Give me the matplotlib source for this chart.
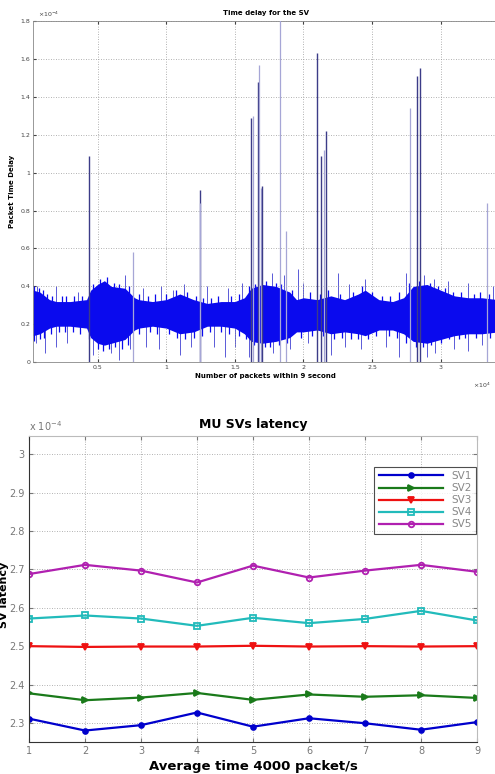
import matplotlib
matplotlib.use("Agg")
import matplotlib.pyplot as plt

plt.rcParams['font.family'] = ['DejaVu Sans']

# ---- top chart: packet time delay (x in 1e4 packets, y in 1e-4 s) ----
# dense noise band, envelope
env_x = [0.03, 0.08, 0.15, 0.2, 0.3, 0.42, 0.45, 0.5, 0.55, 0.6,
         0.7, 0.77, 0.8, 0.9, 1.0, 1.1, 1.2, 1.3, 1.4, 1.5,
         1.57, 1.62, 1.7, 1.8, 1.9, 1.95, 2.0, 2.1, 2.2, 2.3,
         2.4, 2.45, 2.55, 2.65, 2.73, 2.8, 2.9, 3.0, 3.1, 3.2,
         3.3, 3.42]
env_hi = [0.38, 0.37, 0.33, 0.32, 0.32, 0.33, 0.38, 0.41, 0.43, 0.40,
          0.39, 0.34, 0.33, 0.32, 0.33, 0.36, 0.33, 0.31, 0.32, 0.32,
          0.34, 0.39, 0.41, 0.40, 0.37, 0.33, 0.34, 0.33, 0.35, 0.33,
          0.36, 0.38, 0.33, 0.32, 0.34, 0.40, 0.41, 0.38, 0.35, 0.34,
          0.34, 0.33]
env_lo = [0.14, 0.15, 0.18, 0.19, 0.19, 0.18, 0.13, 0.10, 0.09, 0.10,
          0.12, 0.17, 0.18, 0.19, 0.18, 0.15, 0.16, 0.19, 0.19, 0.18,
          0.15, 0.11, 0.10, 0.11, 0.13, 0.16, 0.16, 0.17, 0.15, 0.16,
          0.15, 0.14, 0.17, 0.17, 0.15, 0.11, 0.10, 0.12, 0.14, 0.15,
          0.15, 0.16]

# short ragged tips along the band edges (same blue as the band)
rag_up_x = [0.04, 0.07, 0.1, 0.13, 0.17, 0.24, 0.27, 0.33, 0.39, 0.47, 0.52,
            0.57, 0.62, 0.66, 0.73, 0.8, 0.87, 0.92, 1.0, 1.07, 1.15, 1.22,
            1.27, 1.33, 1.38, 1.47, 1.53, 1.6, 1.65, 1.73, 1.8, 1.84, 1.92,
            2.05, 2.12, 2.18, 2.27, 2.36, 2.43, 2.5, 2.57, 2.63, 2.7, 2.77,
            2.84, 2.92, 2.98, 3.03, 3.09, 3.15, 3.24, 3.29, 3.35, 3.4]
rag_up_y = [0.40, 0.39, 0.38, 0.36, 0.35, 0.35, 0.35, 0.35, 0.35, 0.41, 0.44,
            0.45, 0.42, 0.41, 0.40, 0.36, 0.35, 0.36, 0.36, 0.38, 0.37, 0.35,
            0.34, 0.34, 0.35, 0.35, 0.36, 0.40, 0.41, 0.43, 0.42, 0.41, 0.38,
            0.37, 0.36, 0.38, 0.36, 0.37, 0.40, 0.37, 0.35, 0.35, 0.37, 0.42,
            0.43, 0.42, 0.40, 0.39, 0.37, 0.37, 0.36, 0.37, 0.36, 0.35]
rag_dn_x = [0.04, 0.08, 0.11, 0.16, 0.22, 0.26, 0.32, 0.37, 0.44, 0.5, 0.54,
            0.58, 0.63, 0.68, 0.72, 0.8, 0.88, 0.93, 1.02, 1.08, 1.14, 1.2,
            1.26, 1.32, 1.4, 1.46, 1.53, 1.58, 1.64, 1.72, 1.76, 1.82, 1.88,
            1.98, 2.06, 2.14, 2.22, 2.28, 2.35, 2.4, 2.47, 2.53, 2.62, 2.68,
            2.75, 2.82, 2.87, 2.93, 3.0, 3.06, 3.13, 3.18, 3.26, 3.36]
rag_dn_y = [0.11, 0.12, 0.13, 0.15, 0.16, 0.16, 0.16, 0.15, 0.12, 0.07, 0.06,
            0.07, 0.08, 0.07, 0.09, 0.15, 0.16, 0.15, 0.15, 0.13, 0.12, 0.13,
            0.14, 0.16, 0.16, 0.15, 0.14, 0.12, 0.09, 0.08, 0.08, 0.09, 0.10,
            0.13, 0.14, 0.14, 0.12, 0.13, 0.12, 0.12, 0.12, 0.14, 0.14, 0.13,
            0.10, 0.08, 0.08, 0.09, 0.10, 0.12, 0.12, 0.13, 0.13, 0.13]

# single outliers poking out of the band
whisk_up_x = [0.06, 0.2, 0.36, 0.7, 0.83, 0.96, 1.05, 1.13, 1.3, 1.45, 1.55,
              1.77, 1.86, 1.96, 2.0, 2.25, 2.33, 2.45, 2.75, 2.88, 2.95,
              3.05, 3.2, 3.38]
whisk_up_y = [0.40, 0.40, 0.37, 0.46, 0.39, 0.40, 0.38, 0.41, 0.40, 0.39, 0.42,
              0.47, 0.46, 0.49, 0.42, 0.47, 0.41, 0.44, 0.47, 0.46, 0.44,
              0.43, 0.42, 0.40]
whisk_dn_x = [0.05, 0.12, 0.2, 0.28, 0.47, 0.6, 0.66, 0.74, 0.85, 0.95, 1.1,
              1.18, 1.35, 1.43, 1.5, 1.6, 1.78, 1.9, 2.03, 2.2, 2.3, 2.42,
              2.6, 2.7, 2.9, 2.96, 3.1, 3.2, 3.3]
whisk_dn_y = [0.10, 0.05, 0.08, 0.10, 0.04, 0.05, 0.01, 0.07, 0.08, 0.07, 0.04,
              0.08, 0.08, 0.03, 0.08, 0.03, 0.05, 0.07, 0.10, 0.04, 0.08, 0.07,
              0.08, 0.03, 0.03, 0.05, 0.07, 0.06, 0.09]

# large delay spikes
spike_x = [0.436, 0.76, 1.25, 1.25, 1.62, 1.63, 1.67, 1.68, 1.69, 1.70,
           1.83, 1.87, 2.10, 2.13, 2.15, 2.165, 2.78, 2.83, 2.85, 3.34]
spike_y = [1.09, 0.58, 0.91, 0.84, 1.29, 1.30, 1.48, 1.57, 0.92, 0.93,
           1.85, 0.69, 1.63, 1.09, 1.12, 1.22, 1.34, 1.51, 1.55, 0.84]
spike_dark = [1, 0, 1, 0, 1, 0, 1, 0, 0, 1,
              0, 0, 1, 1, 0, 1, 0, 1, 1, 0]

# ---- bottom chart: MU SVs latency (1e-4 s) ----
runs = [1, 2, 3, 4, 5, 6, 7, 8, 9]
sv1 = [2.311, 2.280, 2.294, 2.327, 2.290, 2.312, 2.299, 2.282, 2.302]
sv2 = [2.377, 2.359, 2.366, 2.378, 2.360, 2.374, 2.368, 2.372, 2.365]
sv3 = [2.500, 2.498, 2.499, 2.499, 2.501, 2.499, 2.500, 2.499, 2.500]
sv4 = [2.572, 2.580, 2.572, 2.553, 2.574, 2.560, 2.571, 2.592, 2.567]
sv5 = [2.688, 2.712, 2.697, 2.666, 2.710, 2.679, 2.697, 2.712, 2.694]
sv_names = ['SV1', 'SV2', 'SV3', 'SV4', 'SV5']

fig = plt.figure(figsize=(4.95, 7.74), dpi=100)
grid_kw = dict(color='#999999', linestyle=(0, (1, 2)), linewidth=0.6)

# top axes
ax1 = fig.add_axes([0.0667, 0.532, 0.94, 0.441])
band = '#0a0aee'
ax1.fill_between(env_x, env_lo, env_hi, color=band, linewidth=0, zorder=2)
ax1.vlines(rag_up_x, 0.25, rag_up_y, color=band, linewidth=0.9, zorder=2)
ax1.vlines(rag_dn_x, rag_dn_y, 0.25, color=band, linewidth=0.9, zorder=2)
ax1.vlines(whisk_up_x, 0.25, whisk_up_y, color='#5a5ad8', linewidth=0.7, zorder=1)
ax1.vlines(whisk_dn_x, whisk_dn_y, 0.25, color='#5a5ad8', linewidth=0.7, zorder=1)
for x, y, d in zip(spike_x, spike_y, spike_dark):
    ax1.vlines(x, 0, y, color='#3c3c88' if d else '#a6a6d6',
               linewidth=1.0 if d else 0.9, zorder=3)
ax1.set_xlim(0.03, 3.42)
ax1.set_ylim(0, 1.8)
ax1.set_xticks([0.5, 1, 1.5, 2, 2.5, 3])
ax1.set_xticklabels(['0.5', '1', '1.5', '2', '2.5', '3'])
ax1.set_yticks([0, 0.2, 0.4, 0.6, 0.8, 1, 1.2, 1.4, 1.6, 1.8])
ax1.set_yticklabels(['0', '0.2', '0.4', '0.6', '0.8', '1', '1.2', '1.4', '1.6', '1.8'])
ax1.tick_params(direction='in', labelsize=4.5, colors='#444444', length=2,
                top=True, right=True, pad=2)
ax1.grid(True, **grid_kw)
for s in ax1.spines.values():
    s.set_color('#888888')
    s.set_linewidth(0.6)
ax1.set_title('Time delay for the SV', fontsize=5, fontweight='bold', pad=4)
ax1.set_xlabel('Number of packets within 9 second', fontsize=5, fontweight='bold', labelpad=2)
ax1.set_ylabel('Packet Time Delay', fontsize=5, fontweight='bold', labelpad=4)
ax1.text(0.01, 1.005, r'$\times10^{-4}$', transform=ax1.transAxes, fontsize=4.5,
         color='#444444', va='bottom')
ax1.text(0.945, -0.055, r'$\times10^{4}$', transform=ax1.transAxes, fontsize=4.5,
         color='#444444', va='top')

# bottom axes
ax2 = fig.add_axes([0.0586, 0.0413, 0.905, 0.3954])
styles = [('#0000cc', 'o', 'full', 3.5),
          ('#1a7a1a', '>', 'full', 4),
          ('#ee1111', 'v', 'full', 4),
          ('#22bbbb', 's', 'none', 4),
          ('#b020b0', 'o', 'none', 4)]
for vals, name, (c, m, fill, ms) in zip([sv1, sv2, sv3, sv4, sv5], sv_names, styles):
    ax2.plot(runs, vals, color=c, marker=m, markersize=ms, linewidth=1.6,
             fillstyle=fill, markeredgewidth=1.3, label=name)
ax2.set_xlim(1, 9)
ax2.set_ylim(2.25, 3.048)
ax2.set_xticks(runs)
ax2.set_yticks([2.3, 2.4, 2.5, 2.6, 2.7, 2.8, 2.9, 3.0])
ax2.set_yticklabels(['2.3', '2.4', '2.5', '2.6', '2.7', '2.8', '2.9', '3'])
ax2.tick_params(direction='in', labelsize=7, colors='#777777', length=3,
                top=True, right=True, pad=3)
ax2.grid(True, **grid_kw)
ax2.spines['left'].set_color('#333333')
ax2.spines['bottom'].set_color('#333333')
ax2.spines['top'].set_color('#bbbbbb')
ax2.spines['right'].set_color('#bbbbbb')
ax2.set_title('MU SVs latency', fontsize=9, fontweight='bold', pad=6)
ax2.set_xlabel('Average time 4000 packet/s', fontsize=9.5, fontweight='bold', labelpad=3)
ax2.set_ylabel('SV latency', fontsize=8, fontweight='bold', labelpad=0)
ax2.yaxis.set_label_coords(-0.045, 0.48)
ax2.text(0.0, 1.01, r'x 10$^{-4}$', transform=ax2.transAxes, fontsize=7,
         color='#777777', va='bottom')
leg = ax2.legend(loc='upper right', bbox_to_anchor=(0.998, 0.899), fontsize=7.5,
                 frameon=True, fancybox=False, handlelength=6.2, labelspacing=0.2,
                 borderpad=0.4, handletextpad=0.8, borderaxespad=0, numpoints=1)
leg.get_frame().set_edgecolor('#222222')
leg.get_frame().set_linewidth(0.8)
for t in leg.get_texts():
    t.set_color('#888888')

fig.savefig('out.png', dpi=100)
